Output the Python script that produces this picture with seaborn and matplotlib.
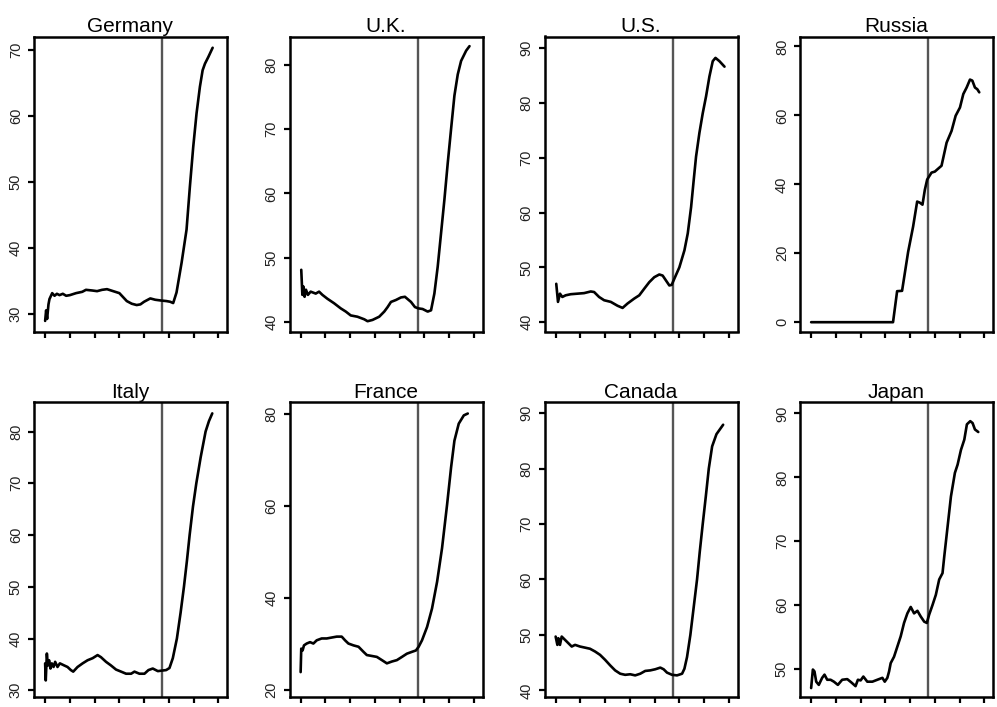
"""
plot.py
-------
Eight small country panels (2 x 4) with one long series each and a
vertical marker line around 1975, drawn in an R base-graphics look.
"""

import matplotlib
matplotlib.use("Agg")
import matplotlib.pyplot as plt
import seaborn as sns

# ---- data ------------------------------------------------------------------
COUNTRIES = ["Germany", "U.K.", "U.S.", "Russia", "Italy", "France", "Canada", "Japan"]

GERMANY_YEARS = [1880, 1880.8, 1881.6, 1882.7, 1883.5, 1885.7, 1887.6, 1889.5, 1891.6, 1894.3,
                 1897, 1900, 1905, 1910, 1913, 1918, 1922, 1926, 1930, 1935, 1940, 1943, 1946,
                 1950, 1954, 1957, 1960, 1963, 1965, 1969, 1973, 1978, 1981, 1983.5, 1986.2,
                 1990.3, 1994.3, 1997.0, 1999.7, 2002.4, 2005.1, 2007.3, 2009.2, 2011.9, 2015.4]
GERMANY_VALUES = [29.0, 30.6, 29.3, 31.5, 32.3, 33.2, 32.8, 33.1, 32.9, 33.1,
                  32.8, 32.9, 33.2, 33.4, 33.7, 33.6, 33.5, 33.7, 33.8, 33.5, 33.2, 32.6, 32.0,
                  31.6, 31.4, 31.5, 31.9, 32.2, 32.4, 32.2, 32.1, 32.0, 31.9, 31.7, 33.3,
                  37.8, 42.8, 49.3, 55.3, 60.4, 64.4, 66.9, 67.9, 68.9, 70.3]

UK_YEARS = [1880.5, 1881.4, 1882.2, 1883.2, 1884.3, 1885.9, 1888.1, 1892.2, 1894.9, 1897.6,
            1901.6, 1907, 1912.4, 1916.5, 1920.5, 1925.9, 1931.4, 1934.1, 1938.1, 1943.5,
            1947.6, 1950.3, 1953, 1957, 1961.1, 1964.3, 1969.2, 1972.4, 1975.1, 1978.6,
            1982.7, 1985.4, 1988.1, 1990.8, 1993.5, 1996.2, 1998.9, 2001.6, 2004.3, 2007,
            2009.7, 2013.8, 2016.5]
UK_VALUES = [48.1, 44.2, 45.5, 43.9, 45.0, 44.2, 44.7, 44.4, 44.7, 44.2,
             43.6, 42.9, 42.1, 41.6, 41.0, 40.8, 40.4, 40.1, 40.3, 40.8,
             41.6, 42.3, 43.1, 43.4, 43.8, 43.9, 43.1, 42.3, 42.1, 42.0,
             41.6, 41.8, 44.4, 48.6, 53.8, 59.0, 64.7, 70.0, 75.2, 78.5,
             80.6, 82.2, 82.9]

US_YEARS = [1880.5, 1881.9, 1883.5, 1885.4, 1888.1, 1892.2, 1897.6, 1903, 1908.4, 1911.1,
            1915.1, 1919.2, 1924.6, 1930, 1934.1, 1938.1, 1943.5, 1947.6, 1951.6, 1955.7,
            1959.7, 1963.8, 1966.5, 1969.2, 1971.9, 1973.8, 1975.9, 1980, 1984.1, 1986.8,
            1989.5, 1991.6, 1993.5, 1996.2, 1998.9, 2001.6, 2004.3, 2007, 2009.2, 2012.4,
            2016.5]
US_VALUES = [47.0, 43.7, 45.2, 44.6, 44.9, 45.1, 45.2, 45.3, 45.6, 45.5,
             44.6, 44.0, 43.7, 43.0, 42.6, 43.4, 44.3, 44.9, 46.1, 47.3,
             48.2, 48.7, 48.5, 47.6, 46.7, 46.8, 47.9, 50.0, 53.1, 56.2,
             61.0, 65.9, 70.2, 74.5, 78.1, 81.2, 84.8, 87.6, 88.2, 87.6,
             86.6]

RUSSIA_YEARS = [1880, 1900, 1920, 1940, 1946.2, 1949.5, 1953.5, 1958.4, 1962.4, 1965.7,
                1967.8, 1970, 1971.9, 1973.8, 1977.3, 1980, 1982.2, 1985.4, 1989.5, 1993.5,
                1996.8, 2000.3, 2003, 2005.7, 2008.4, 2010.3, 2012.4, 2014.3, 2015.9]
RUSSIA_VALUES = [0, 0, 0, 0, 0, 9.0, 9.1, 20.4, 27.7, 35.0,
                 34.7, 34.1, 38.4, 41.4, 43.4, 43.7, 44.4, 45.4, 52.1, 55.5,
                 59.9, 62.3, 66.2, 68.1, 70.4, 70.1, 68.1, 67.6, 66.7]

ITALY_YEARS = [1880, 1880.5, 1881.4, 1882.2, 1883.2, 1884.3, 1885.4, 1886.8, 1888.1, 1890,
               1891.9, 1895.4, 1898.1, 1900.8, 1902.7, 1906.2, 1910.3, 1914.3, 1918.4, 1922.4,
               1925.1, 1929.2, 1933.2, 1937.3, 1941.4, 1945.4, 1949.5, 1952.2, 1956.2, 1960.3,
               1963.5, 1967, 1971.1, 1974.3, 1977.8, 1980.5, 1983.2, 1986.5, 1989.5, 1992.2,
               1994.6, 1996.8, 1999.5, 2002.2, 2005.7, 2009.7, 2012.4, 2015.1]
ITALY_VALUES = [35.2, 31.9, 37.1, 34.8, 35.8, 34.2, 35.2, 34.5, 35.5, 34.5,
                35.2, 34.8, 34.5, 33.9, 33.6, 34.5, 35.2, 35.8, 36.2, 36.8,
                36.4, 35.5, 34.8, 34.0, 33.6, 33.2, 33.2, 33.6, 33.2, 33.2,
                33.9, 34.2, 33.7, 33.8, 33.9, 34.3, 36.2, 40.0, 45.0, 50.0,
                55.0, 60.0, 65.5, 70.0, 75.0, 80.0, 82.0, 83.5]

FRANCE_YEARS = [1880, 1880.5, 1881.6, 1882.7, 1884.9, 1887.6, 1890.3, 1893, 1897, 1901.1,
                1905.1, 1909.2, 1913.2, 1915.9, 1918.6, 1922.7, 1926.8, 1930.8, 1933.5, 1937.6,
                1941.6, 1945.7, 1949.7, 1953.8, 1957.8, 1961.9, 1965.9, 1970, 1973.2, 1975.4,
                1978.1, 1982.2, 1986.2, 1990.3, 1994.3, 1998.4, 2001.6, 2004.3, 2007.8, 2011.9,
                2015.1]
FRANCE_VALUES = [23.9, 29.0, 28.6, 29.7, 30.1, 30.4, 30.1, 30.8, 31.2, 31.2,
                 31.4, 31.6, 31.6, 30.8, 30.1, 29.7, 29.4, 28.3, 27.6, 27.4,
                 27.2, 26.5, 25.8, 26.2, 26.5, 27.2, 27.9, 28.3, 28.6, 29.4,
                 30.8, 33.7, 37.7, 43.5, 50.8, 60.3, 68.3, 74.1, 77.8, 79.6,
                 80.0]

CANADA_YEARS = [1880, 1881.4, 1882.2, 1883.5, 1884.9, 1887.6, 1890.3, 1893, 1895.7, 1899.7,
                1903.8, 1907.8, 1911.9, 1915.9, 1920, 1924.1, 1928.1, 1932.2, 1936.2, 1940.3,
                1944.3, 1948.4, 1952.4, 1956.5, 1960.5, 1964.6, 1967.3, 1970, 1974.1, 1978.1,
                1982.2, 1984.1, 1986.2, 1988.9, 1991.6, 1994.3, 1996.5, 1998.9, 2001.4, 2003.8,
                2006.5, 2010, 2015.4]
CANADA_VALUES = [49.7, 48.2, 49.4, 48.2, 49.7, 49.1, 48.5, 47.9, 48.2, 47.9,
                 47.7, 47.5, 47.0, 46.4, 45.5, 44.5, 43.6, 43.0, 42.8, 42.9,
                 42.7, 43.0, 43.5, 43.6, 43.8, 44.1, 43.8, 43.2, 42.8, 42.7,
                 43.0, 43.9, 46.0, 50.0, 55.0, 60.0, 65.0, 70.0, 75.0, 80.0,
                 84.0, 86.2, 87.9]

JAPAN_YEARS = [1880, 1881.4, 1882.7, 1884.1, 1886.2, 1888.9, 1890.8, 1893, 1895.7, 1898.4,
               1901.6, 1905.1, 1909.2, 1912.4, 1915.9, 1917.8, 1920, 1922.2, 1925.4, 1929.5,
               1933.5, 1937.6, 1939.5, 1941.6, 1943, 1944.3, 1947, 1949.7, 1952.4, 1955.1,
               1957.8, 1960.5, 1963.2, 1965.9, 1968.6, 1971.4, 1973.5, 1975.4, 1978.1, 1980.8,
               1983.5, 1986.2, 1987.6, 1990.3, 1993, 1996.2, 1998.4, 2001.1, 2003.8, 2005.9,
               2008.6, 2010.5, 2012.4, 2015.1]
JAPAN_VALUES = [47.0, 49.9, 49.6, 48.0, 47.5, 48.6, 49.1, 48.3, 48.3, 48.0,
                47.5, 48.3, 48.4, 47.9, 47.3, 48.3, 48.2, 48.8, 48.0, 48.0,
                48.3, 48.6, 48.0, 48.6, 49.6, 50.9, 51.9, 53.5, 55.1, 57.2,
                58.7, 59.7, 58.7, 59.1, 58.2, 57.4, 57.2, 58.5, 60.0, 61.6,
                64.0, 65.0, 67.6, 72.3, 77.0, 80.7, 82.0, 84.3, 85.9, 88.3,
                88.8, 88.5, 87.5, 87.1]

SERIES = [
    (GERMANY_YEARS, GERMANY_VALUES),
    (UK_YEARS, UK_VALUES),
    (US_YEARS, US_VALUES),
    (RUSSIA_YEARS, RUSSIA_VALUES),
    (ITALY_YEARS, ITALY_VALUES),
    (FRANCE_YEARS, FRANCE_VALUES),
    (CANADA_YEARS, CANADA_VALUES),
    (JAPAN_YEARS, JAPAN_VALUES),
]

Y_TICKS = [
    [30, 40, 50, 60, 70],
    [40, 50, 60, 70, 80],
    [40, 50, 60, 70, 80, 90],
    [0, 20, 40, 60, 80],
    [30, 40, 50, 60, 70, 80],
    [20, 40, 60, 80],
    [40, 50, 60, 70, 80, 90],
    [50, 60, 70, 80, 90],
]
X_TICKS = [1880, 1900, 1920, 1940, 1960, 1980, 2000, 2020]
MARKER_YEAR = 1974.7

# ---- axis ranges and layout (pixels of a 997 x 707 canvas) -----------------
Y_LIMITS = [(27.4, 72.0), (38.5, 84.4), (38.3, 92.1), (-2.7, 82.9),
            (28.7, 85.7), (18.5, 82.5), (38.8, 92.0), (45.6, 91.8)]
X_LIMITS = (1871.0, 2027.0)

FIG_W, FIG_H = 997, 707
COL_LEFT = [34, 289.5, 544.5, 800]
ROW_TOP = [36.5, 402]
PANEL_W, PANEL_H = 193, 295


def style_panel(ax, yticks, ylim):
    ax.set_xlim(*X_LIMITS)
    ax.set_ylim(*ylim)
    ax.set_xticks(X_TICKS)
    ax.set_xticklabels([])
    ax.set_yticks(yticks)
    ax.set_yticklabels([str(t) for t in yticks])
    for lab in ax.get_yticklabels():
        lab.set_rotation(90)
        lab.set_va("center")
        lab.set_ha("right")
    ax.tick_params(axis="both", direction="out", length=4, width=1.6,
                   colors="black", labelsize=10.5, pad=4)
    ax.tick_params(axis="y", labelcolor="#222222")
    for side in ["left", "right", "top", "bottom"]:
        ax.spines[side].set_visible(True)
        ax.spines[side].set_linewidth(1.8)
        ax.spines[side].set_color("black")
    ax.set_xlabel("")
    ax.set_ylabel("")
    ax.grid(False)


def main():
    sns.set_theme(style="ticks")
    plt.rcParams["font.family"] = ["Liberation Sans", "DejaVu Sans"]

    fig = plt.figure(figsize=(FIG_W / 100, FIG_H / 100), dpi=100)
    fig.patch.set_facecolor("white")

    for i, name in enumerate(COUNTRIES):
        row, col = divmod(i, 4)
        left = COL_LEFT[col] / FIG_W
        bottom = 1 - (ROW_TOP[row] + PANEL_H) / FIG_H
        ax = fig.add_axes([left, bottom, PANEL_W / FIG_W, PANEL_H / FIG_H])
        ax.set_facecolor("white")

        years, values = SERIES[i]
        ax.axvline(MARKER_YEAR, color="#555555", linewidth=1.7, zorder=1)
        sns.lineplot(x=years, y=values, ax=ax, color="black", linewidth=1.9,
                     estimator=None, sort=False, zorder=2)

        style_panel(ax, Y_TICKS[i], Y_LIMITS[i])
        ax.set_title(name, fontsize=15, pad=3, color="black")

    fig.savefig("out.png", dpi=100, facecolor="white")
    plt.close(fig)


if __name__ == "__main__":
    main()
